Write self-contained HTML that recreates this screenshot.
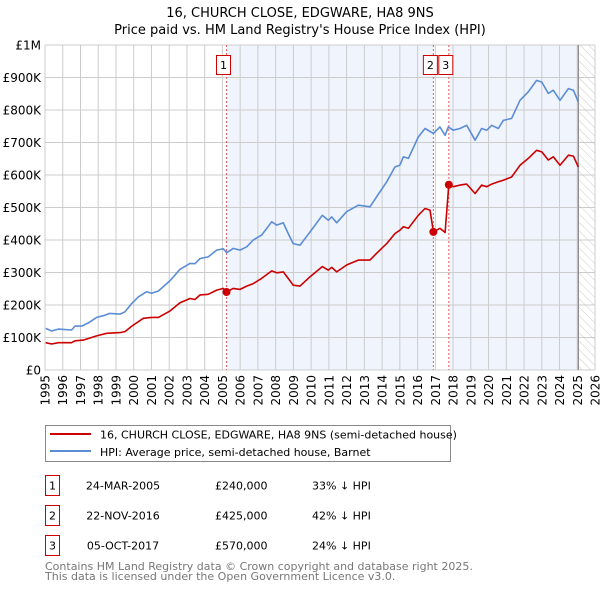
<!DOCTYPE html>
<html><head><meta charset="utf-8"><style>
body{margin:0;background:#fff;font-family:"DejaVu Sans","Liberation Sans",sans-serif;}
svg text{font-family:"DejaVu Sans","Liberation Sans",sans-serif;}
</style></head><body>
<svg id="chart" width="600" height="590" xmlns="http://www.w3.org/2000/svg">
<defs><pattern id="hatch" width="6" height="6" patternUnits="userSpaceOnUse" patternTransform="rotate(-45)"><line x1="0" y1="0" x2="0" y2="6" stroke="#ccc" stroke-width="1"/></pattern></defs>
<text x="300" y="17" text-anchor="middle" font-size="13">16, CHURCH CLOSE, EDGWARE, HA8 9NS</text>
<text x="300" y="34" text-anchor="middle" font-size="13">Price paid vs. HM Land Registry's House Price Index (HPI)</text>
<g id="plot"></g>
<rect x="45.5" y="425.5" width="405" height="36" fill="#fff" stroke="#888"/>
<line x1="50" y1="434" x2="91" y2="434" stroke="#cc0000" stroke-width="2"/>
<text x="100" y="438.5" font-size="11">16, CHURCH CLOSE, EDGWARE, HA8 9NS (semi-detached house)</text>
<line x1="50" y1="451" x2="91" y2="451" stroke="#5b8dd6" stroke-width="2"/>
<text x="100" y="456" font-size="11">HPI: Average price, semi-detached house, Barnet</text>
<g id="table" font-size="11"></g>
<text x="45" y="570" font-size="11" fill="#777">Contains HM Land Registry data © Crown copyright and database right 2025.</text>
<text x="45" y="580" font-size="11" fill="#777">This data is licensed under the Open Government Licence v3.0.</text>
</svg>
<script>
const hpiYears=[1995.04,1995.38,1995.75,1996.5,1996.69,1997.07,1997.44,1997.91,1998.29,1998.66,1999.23,1999.51,1999.89,2000.26,2000.73,2001.01,2001.39,2002.05,2002.61,2003.17,2003.45,2003.74,2004.2,2004.68,2005.05,2005.24,2005.61,2005.99,2006.37,2006.74,2007.21,2007.78,2008.06,2008.43,2008.71,2008.99,2009.37,2009.94,2010.63,2010.97,2011.16,2011.44,2012.0,2012.66,2013.32,2013.69,2014.26,2014.73,2015.0,2015.2,2015.48,2016.04,2016.42,2016.89,2017.26,2017.55,2017.73,2018.01,2018.39,2018.77,2019.24,2019.61,2019.9,2020.18,2020.55,2020.83,2021.3,2021.77,2022.24,2022.71,2023.0,2023.37,2023.65,2024.03,2024.5,2024.78,2025.06];
const hpiValues=[128,120,126,123,135,135,145,162,167,174,172,179,205,225,241,236,243,275,310,328,327,343,348,369,373,361,374,369,379,400,415,456,446,453,420,389,384,425,476,461,471,453,487,507,502,533,579,625,630,656,651,717,743,728,748,722,748,738,743,753,707,743,738,753,743,768,774,830,856,891,886,851,861,830,866,861,825];
const priceYears=[1995.04,1995.38,1995.75,1996.5,1996.69,1997.16,1997.91,1998.48,1999.23,1999.51,1999.89,2000.54,2001.01,2001.39,2002.05,2002.61,2003.17,2003.45,2003.74,2004.2,2004.68,2005.05,2005.23,2005.61,2005.99,2006.37,2006.74,2007.21,2007.78,2008.06,2008.43,2008.71,2008.99,2009.37,2009.94,2010.63,2010.97,2011.16,2011.44,2012.0,2012.66,2013.32,2013.69,2014.26,2014.73,2015.0,2015.2,2015.48,2016.04,2016.42,2016.7,2016.89,2017.26,2017.55,2017.76,2018.01,2018.39,2018.77,2019.24,2019.61,2019.9,2020.18,2020.55,2020.83,2021.3,2021.77,2022.24,2022.71,2023.0,2023.37,2023.65,2024.03,2024.5,2024.78,2025.06];
const priceValues=[84,80,84,84,90,92,105,113,115,118,135,159,162,162,182,207,220,217,231,233,246,251,240,251,248,258,266,282,305,299,302,282,261,258,287,318,307,316,302,323,338,338,359,389,420,430,441,436,476,497,492,425,436,423,570,564,569,572,543,569,564,572,579,584,594,630,651,676,671,646,656,630,661,658,625];
const saleYears=[2005.23,2016.89,2017.76];
const saleValues=[240,425,570];
const saleDates=["24-MAR-2005","22-NOV-2016","05-OCT-2017"];
const salePrices=["£240,000","£425,000","£570,000"];
const saleDiffs=["33% ↓ HPI","42% ↓ HPI","24% ↓ HPI"];
const yTicks=[0,100,200,300,400,500,600,700,800,900,1000];
const yTickLabels=["£0","£100K","£200K","£300K","£400K","£500K","£600K","£700K","£800K","£900K","£1M"];
const xStart=1995,xEnd=2026,dataEnd=2025.06;

const NS="http://www.w3.org/2000/svg";
const L=45,R=595,T=45,B=370;
const X=y=>L+(y-xStart)/(xEnd-xStart)*(R-L);
const Y=v=>B-v/1000*(B-T);
const plot=document.getElementById('plot');
function mk(tag,attrs,parent){const e=document.createElementNS(NS,tag);for(const k in attrs)e.setAttribute(k,attrs[k]);(parent||plot).appendChild(e);return e;}

let r;
r=mk('rect',{x:X(saleYears[0]),y:T,width:X(saleYears[1])-X(saleYears[0]),height:B-T,fill:'#f0f4fd'});


r=mk('rect',{x:X(saleYears[2]),y:T,width:X(dataEnd)-X(saleYears[2]),height:B-T,fill:'#f0f4fd'});


r=mk('rect',{x:X(dataEnd),y:T,width:R-X(dataEnd),height:B-T,fill:'url(#hatch)'});



for(let yr=xStart;yr<=xEnd;yr++){
  const g=mk('line',{x1:X(yr),x2:X(yr),y1:T,y2:B,stroke:'#ccc','stroke-width':1});
  
  
  const t=mk('text',{x:0,y:0,'font-size':12,'text-anchor':'end',transform:`translate(${X(yr)+4.5},${B+5}) rotate(-90)`});
  
  
  t.textContent=yr;
}
yTicks.forEach((v,i)=>{
  const g=mk('line',{x1:L,x2:R,y1:Y(v),y2:Y(v),stroke:'#ccc','stroke-width':1});
  
  
  const t=mk('text',{x:L-4,y:Y(v)+4.5,'font-size':12,'text-anchor':'end'});
  
  
  t.textContent=yTickLabels[i];
});
r=mk('line',{x1:X(dataEnd),x2:X(dataEnd),y1:T,y2:B,stroke:'#888','stroke-width':1.2});



saleYears.forEach((yr,i)=>{
  const l=mk('line',{x1:X(yr),x2:X(yr),y1:T,y2:B,stroke:'#e06060','stroke-width':1,'stroke-dasharray':'2,2'});
  
  
  const cx=X(yr)-3;
  const b=mk('rect',{x:cx-7,y:55.5,width:14,height:19,fill:'#fff',stroke:'#cc0000','stroke-width':1});
  
  
  const t=mk('text',{x:cx,y:69,'font-size':11,'text-anchor':'middle'});
  
  
  t.textContent=i+1;
});

function line(xs,vs,color,name){
  const p=mk('polyline',{points:xs.map((x,i)=>X(x).toFixed(1)+','+Y(vs[i]).toFixed(1)).join(' '),fill:'none',stroke:color,'stroke-width':1.6,'stroke-linejoin':'round'});
  
  
}
line(hpiYears,hpiValues,'#5b8dd6','hpi-line');
line(priceYears,priceValues,'#cc0000','price-paid-line');
saleYears.forEach((yr,i)=>{
  const c=mk('circle',{cx:X(yr),cy:Y(saleValues[i]),r:4,fill:'#cc0000'});
  
  
});

const tb=document.getElementById('table');
saleDates.forEach((d,i)=>{
  const top=475.5+i*30;
  const b=mk('rect',{x:45.5,y:top,width:14,height:20,fill:'#fff',stroke:'#cc0000'},tb);
  
  
  const cells=[[52.5,String(i+1),'middle'],[123,d,'middle'],[215,salePrices[i],'start'],[312,saleDiffs[i],'start']];
  cells.forEach(c=>{
    const t=mk('text',{x:c[0],y:top+14,'text-anchor':c[2]},tb);
    
    
    t.textContent=c[1];
  });
});
</script>
</body></html>
